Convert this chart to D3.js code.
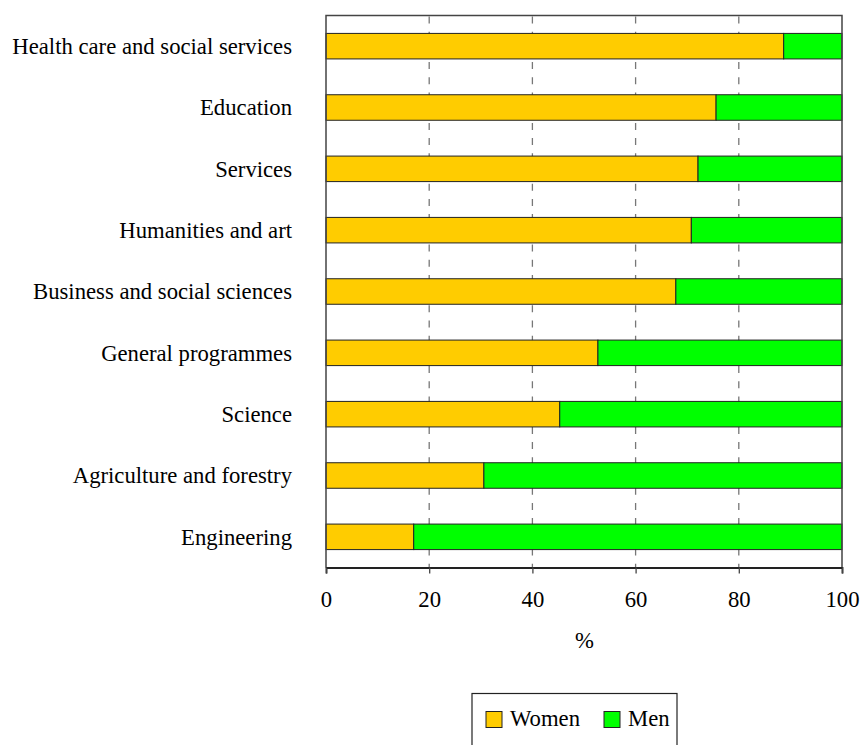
<!DOCTYPE html>
<html>
<head>
<meta charset="utf-8">
<script src="https://cdn.jsdelivr.net/npm/d3@7"></script>
<style>
  html, body { margin: 0; padding: 0; background: #fff; }
</style>
</head>
<body>
<svg id="chart" width="861" height="745" font-family="Liberation Serif" style="font-family: 'Liberation Serif'"></svg>
<script>
const categories = [
  "Health care and social services",
  "Education",
  "Services",
  "Humanities and art",
  "Business and social sciences",
  "General programmes",
  "Science",
  "Agriculture and forestry",
  "Engineering"
];
const women = [88.7, 75.6, 72.1, 70.8, 67.8, 52.7, 45.3, 30.6, 17.0];
const men = women.map(w => 100 - w);
const xTicks = [0, 20, 40, 60, 80, 100];
const seriesNames = ["Women", "Men"];
const seriesColors = ["#FFCC00", "#00FF00"];

const svg = d3.select("#chart");
const pLeft = 326, pRight = 842, pTop = 15.5, pBottom = 567.5;
const fontPx = 22.7;
function styleText(sel) {
  sel.attr("font-family", "Liberation Serif").attr("font-size", fontPx)
     .style("font-family", "'Liberation Serif'").style("font-size", fontPx + "px")
     .attr("fill", "#000");
}

const x = d3.scaleLinear().domain([0, 100]).range([pLeft, pRight]);
const y = d3.scaleBand().domain(categories).range([pTop, pBottom])
  .paddingInner(0.584).paddingOuter(0.292);

// gridlines
svg.append("g").selectAll("line")
  .data(xTicks.filter(t => t > 0 && t < 100))
  .join("line")
  .attr("x1", d => x(d)).attr("x2", d => x(d))
  .attr("y1", pTop + 1).attr("y2", pBottom)
  .attr("stroke", "#777")
  .attr("stroke-width", 1.3)
  .attr("stroke-dasharray", "7,8.2");

// bars
const rows = categories.map((c, i) => ({ cat: c, w: women[i], m: men[i] }));
const g = svg.append("g");
g.selectAll("rect.women").data(rows).join("rect")
  .attr("class", "women")
  .attr("x", x(0)).attr("y", d => y(d.cat))
  .attr("width", d => x(d.w) - x(0)).attr("height", y.bandwidth())
  .attr("fill", seriesColors[0]).attr("stroke", "#222").attr("stroke-width", 1);
g.selectAll("rect.men").data(rows).join("rect")
  .attr("class", "men")
  .attr("x", d => x(d.w)).attr("y", d => y(d.cat))
  .attr("width", d => x(d.w + d.m) - x(d.w)).attr("height", y.bandwidth())
  .attr("fill", seriesColors[1]).attr("stroke", "#222").attr("stroke-width", 1);

// frame (top, right, left)
svg.append("path")
  .attr("d", `M${pLeft},${pBottom}V${pTop}H${pRight}V${pBottom}`)
  .attr("fill", "none").attr("stroke", "#444").attr("stroke-width", 1.5);

// bottom axis
const xAxis = d3.axisBottom(x).tickValues(xTicks).tickFormat(d3.format("d"))
  .tickSizeInner(6).tickSizeOuter(6).tickPadding(17);
const ax = svg.append("g").attr("transform", `translate(0,${pBottom})`).call(xAxis);
ax.attr("font-family", "Liberation Serif").attr("font-size", fontPx);
ax.select(".domain").attr("stroke", "#222").attr("stroke-width", 1.8);
ax.selectAll(".tick line").attr("stroke", "#444").attr("stroke-width", 1.3);
ax.selectAll(".tick text").call(styleText);

// category labels
svg.append("g").selectAll("text").data(categories).join("text")
  .attr("x", 292)
  .attr("y", d => y(d) + y.bandwidth() / 2)
  .attr("dy", "0.35em")
  .attr("text-anchor", "end")
  .call(styleText)
  .text(d => d);

// axis title
svg.append("text").attr("x", 584.5).attr("y", 648)
  .attr("text-anchor", "middle").call(styleText).text("%");

// legend
const lg = svg.append("g");
lg.append("rect").attr("x", 472).attr("y", 693.5).attr("width", 205).attr("height", 70)
  .attr("fill", "#fff").attr("stroke", "#222").attr("stroke-width", 1.2);
const legendX = [486, 604];
seriesNames.forEach((name, i) => {
  lg.append("rect").attr("x", legendX[i]).attr("y", 711.5).attr("width", 16).attr("height", 16)
    .attr("fill", seriesColors[i]).attr("stroke", "#222").attr("stroke-width", 1);
  lg.append("text").attr("x", legendX[i] + 24).attr("y", 725.5)
    .call(styleText).text(name);
});
</script>
</body>
</html>
